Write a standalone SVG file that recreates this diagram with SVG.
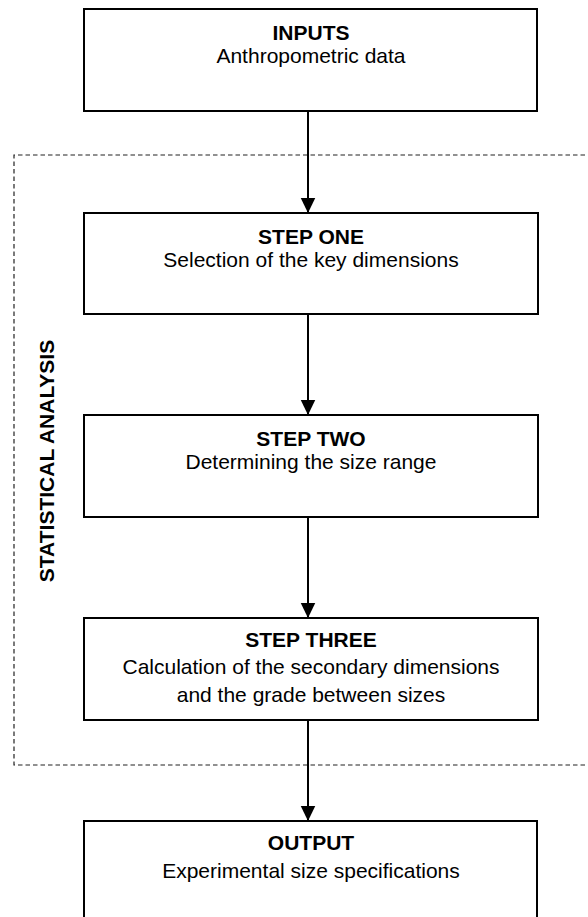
<svg xmlns="http://www.w3.org/2000/svg" width="588" height="917" viewBox="0 0 588 917">
<style>
  .box { fill: #ffffff; stroke: #000000; stroke-width: 2; }
  .t { font-family: "Liberation Sans", Arial, sans-serif; font-size: 21px; fill: #000000; text-anchor: middle; }
  .b { font-weight: bold; }
  .edge { stroke: #000000; stroke-width: 2; fill: none; }
  .group { fill: none; stroke: #222222; stroke-width: 1.2; stroke-dasharray: 4.5 3; }
</style>
<defs>
  <marker id="arrow" markerUnits="userSpaceOnUse" markerWidth="16" markerHeight="17" viewBox="0 0 16 17" refX="15.5" refY="8" orient="auto">
    <path d="M0,0.5 L15.5,8 L0,15.5 Z" fill="#000000"/>
  </marker>
</defs>
<rect width="588" height="917" fill="#ffffff"/>
<g id="statistical-analysis">
  <path class="group" d="M600,155 H14 V765 H600"/>
  <text class="t b" transform="translate(54,461) rotate(-90)">STATISTICAL ANALYSIS</text>
</g>
<g id="connectors">
  <line class="edge" x1="308" y1="111" x2="308" y2="213" marker-end="url(#arrow)"/>
  <line class="edge" x1="308" y1="314" x2="308" y2="415" marker-end="url(#arrow)"/>
  <line class="edge" x1="308" y1="517" x2="308" y2="618" marker-end="url(#arrow)"/>
  <line class="edge" x1="308" y1="720" x2="308" y2="821" marker-end="url(#arrow)"/>
</g>
<g id="inputs">
  <rect class="box" x="84" y="9" width="453" height="102"/>
  <text class="t b" x="311" y="40">INPUTS</text>
  <text class="t" x="311" y="63">Anthropometric data</text>
</g>
<g id="step-one">
  <rect class="box" x="84" y="213" width="454" height="101"/>
  <text class="t b" x="311" y="244">STEP ONE</text>
  <text class="t" x="311" y="267">Selection of the key dimensions</text>
</g>
<g id="step-two">
  <rect class="box" x="84" y="415" width="454" height="102"/>
  <text class="t b" x="311" y="446">STEP TWO</text>
  <text class="t" x="311" y="469">Determining the size range</text>
</g>
<g id="step-three">
  <rect class="box" x="84" y="618" width="454" height="102"/>
  <text class="t b" x="311" y="647">STEP THREE</text>
  <text class="t" x="311" y="674">Calculation of the secondary dimensions</text>
  <text class="t" x="311" y="702">and the grade between sizes</text>
</g>
<g id="output">
  <rect class="box" x="84" y="821" width="453" height="130"/>
  <text class="t b" x="311" y="850">OUTPUT</text>
  <text class="t" x="311" y="878">Experimental size specifications</text>
</g>
</svg>
